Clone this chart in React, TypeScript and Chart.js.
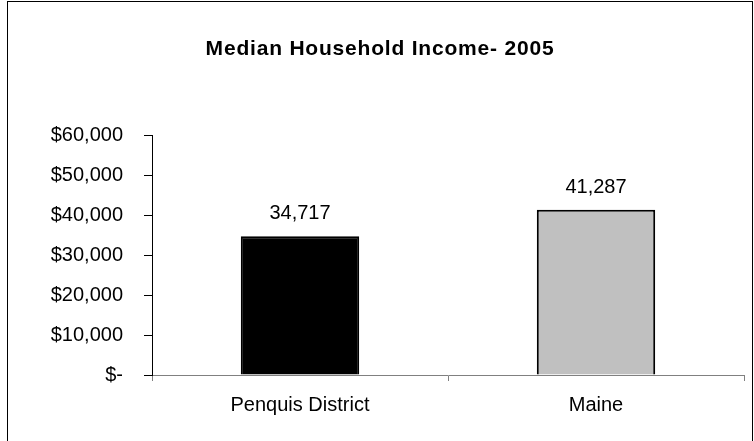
import React, { useEffect, useRef } from "react";
import { Chart, registerables } from "chart.js";

Chart.register(...registerables);

const categories = ["Penquis District", "Maine"];
const incomes = [34717, 41287];
const barColors = ["#000000", "#c0c0c0"];
const yTickValues = [0, 10000, 20000, 30000, 40000, 50000, 60000];
const yTickLabels = ["$-", "$10,000", "$20,000", "$30,000", "$40,000", "$50,000", "$60,000"];
const chartTitle = "Median Household Income- 2005";

const FONT = "'Liberation Sans', Arial, sans-serif";

export default function App() {
  const ref = useRef<HTMLCanvasElement | null>(null);

  useEffect(() => {
    if (!ref.current) return;
    const framePlugin = {
      id: "frame",
      beforeDraw(chart: any) {
        const ctx = chart.ctx;
        ctx.save();
        ctx.fillStyle = "#ffffff";
        ctx.fillRect(0, 0, chart.width, chart.height);
        ctx.strokeStyle = "#000000";
        ctx.lineWidth = 1;
        ctx.strokeRect(7.5, 1.5, 745, 470);
        ctx.fillStyle = "#000000";
        ctx.font = "bold 21px " + FONT;
        ctx.textAlign = "center";
        ctx.textBaseline = "alphabetic";
        try { (ctx as any).letterSpacing = "0.8px"; } catch (e) {}
        ctx.fillText(chartTitle, 380, 55);
        ctx.restore();
      },
      afterDatasetsDraw(chart: any) {
        const ctx = chart.ctx;
        const meta = chart.getDatasetMeta(0);
        ctx.save();
        ctx.fillStyle = "#000000";
        ctx.font = "20px " + FONT;
        ctx.textAlign = "center";
        ctx.textBaseline = "alphabetic";
        meta.data.forEach((bar: any, i: number) => {
          ctx.fillText(incomes[i].toLocaleString("en-US"), bar.x, bar.y - 17);
        });
        ctx.restore();
      },
    };

    const chart = new Chart(ref.current, {
      type: "bar",
      data: {
        labels: categories,
        datasets: [
          {
            data: incomes,
            backgroundColor: barColors,
            borderColor: "#000000",
            borderWidth: 2,
            barPercentage: 0.4,
            categoryPercentage: 1,
          },
        ],
      },
      options: {
        animation: false,
        responsive: false,
        maintainAspectRatio: false,
        layout: { padding: { left: 0, top: 135, right: 10, bottom: 0 } },
        plugins: {
          legend: { display: false },
          title: { display: false },
          tooltip: { enabled: false },
        },
        scales: {
          x: {
            offset: true,
            grid: {
              offset: true,
              drawOnChartArea: false,
              drawTicks: true,
              tickLength: 6,
              color: "#808080",
            },
            border: { display: true, color: "#808080", width: 1 },
            ticks: {
              color: "#000000",
              font: { family: FONT, size: 20, lineHeight: 1.2 },
              padding: 12,
              maxRotation: 0,
              autoSkip: false,
            },
            afterFit(scale: any) {
              scale.height = 66;
            },
          },
          y: {
            min: 0,
            max: 60000,
            afterBuildTicks(scale: any) {
              scale.ticks = yTickValues.map((v) => ({ value: v }));
            },
            grid: {
              drawOnChartArea: false,
              drawTicks: true,
              tickLength: 8,
              color: "#000000",
            },
            border: { display: true, color: "#000000", width: 1 },
            ticks: {
              color: "#000000",
              font: { family: FONT, size: 20 },
              padding: 21,
              callback: (v: any) => yTickLabels[yTickValues.indexOf(Number(v))] ?? "",
            },
            afterFit(scale: any) {
              scale.width = 152;
            },
          },
        },
      },
      plugins: [framePlugin],
    });
    return () => chart.destroy();
  }, []);

  return (
    <div style={{ position: "fixed", left: 0, top: 0, width: 754, height: 441, background: "#fff" }}>
      <canvas ref={ref} width={754} height={441} style={{ width: 754, height: 441, display: "block" }} />
    </div>
  );
}
